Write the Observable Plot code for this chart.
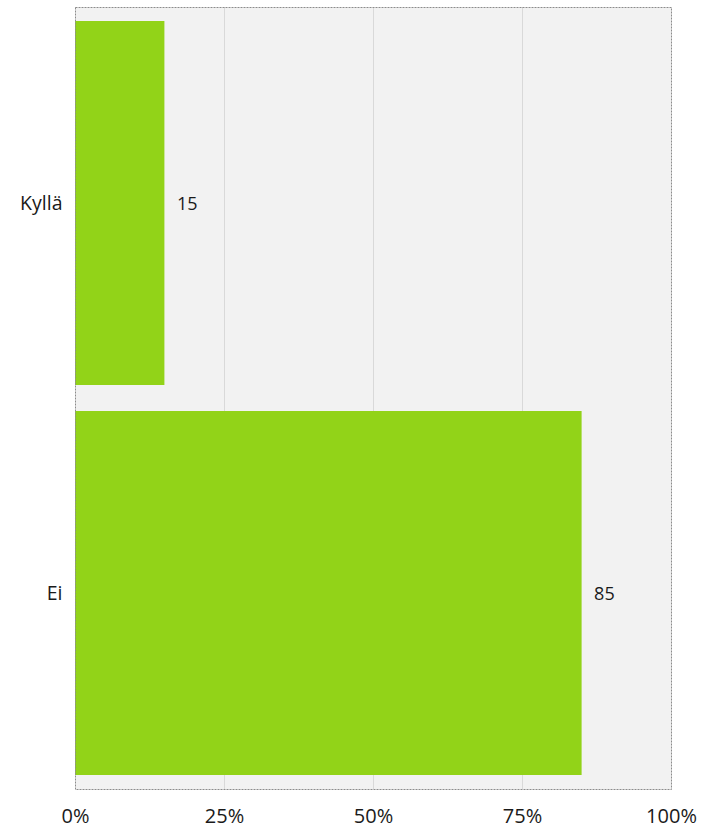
<!DOCTYPE html>
<html>
<head>
<meta charset="utf-8">
<script src="https://cdn.jsdelivr.net/npm/d3@7"></script>
<script src="https://cdn.jsdelivr.net/npm/@observablehq/plot@0.6"></script>
<style>
  html, body { margin: 0; padding: 0; background: #fff; }
  #chart svg { display: block; }
</style>
</head>
<body>
<div id="chart"></div>
<script>
const categories = ["Kyllä", "Ei"];
const values = [15, 85];
const xTicks = [0, 25, 50, 75, 100];
const gridTicks = [25, 50, 75];

const data = categories.map((c, i) => ({category: c, value: values[i]}));

const chart = Plot.plot({
  width: 709,
  height: 830,
  marginLeft: 75,
  marginRight: 38,
  marginTop: 7,
  marginBottom: 41,
  style: {fontFamily: "'Open Sans', sans-serif", color: "#1a1a1a", background: "#fff"},
  x: {domain: [0, 100], ticks: xTicks, tickFormat: d => d + "%", label: null},
  y: {domain: categories, paddingInner: 0.067, paddingOuter: 0.036, label: null},
  marks: [
    Plot.frame({fill: "#f2f2f2", stroke: null}),
    Plot.ruleX(gridTicks, {stroke: "#d9d9d9", strokeWidth: 1}),
    Plot.barX(data, {x: "value", y: "category", fill: "#92d318"}),
    Plot.text(data, {x: "value", y: "category", text: d => String(d.value), dx: 12, dy: 1, textAnchor: "start", fontSize: 18, fill: "#1a1a1a"}),
    Plot.frame({stroke: "#8c8c8c", strokeDasharray: "2,1", strokeWidth: 1}),
    Plot.axisX({ticks: xTicks, tickFormat: d => d + "%", tickSize: 0, tickPadding: 19, fontSize: 20, label: null}),
    Plot.axisY({tickSize: 0, tickPadding: 13, fontSize: 19.5, label: null})
  ]
});
document.getElementById("chart").appendChild(chart);
</script>
</body>
</html>
